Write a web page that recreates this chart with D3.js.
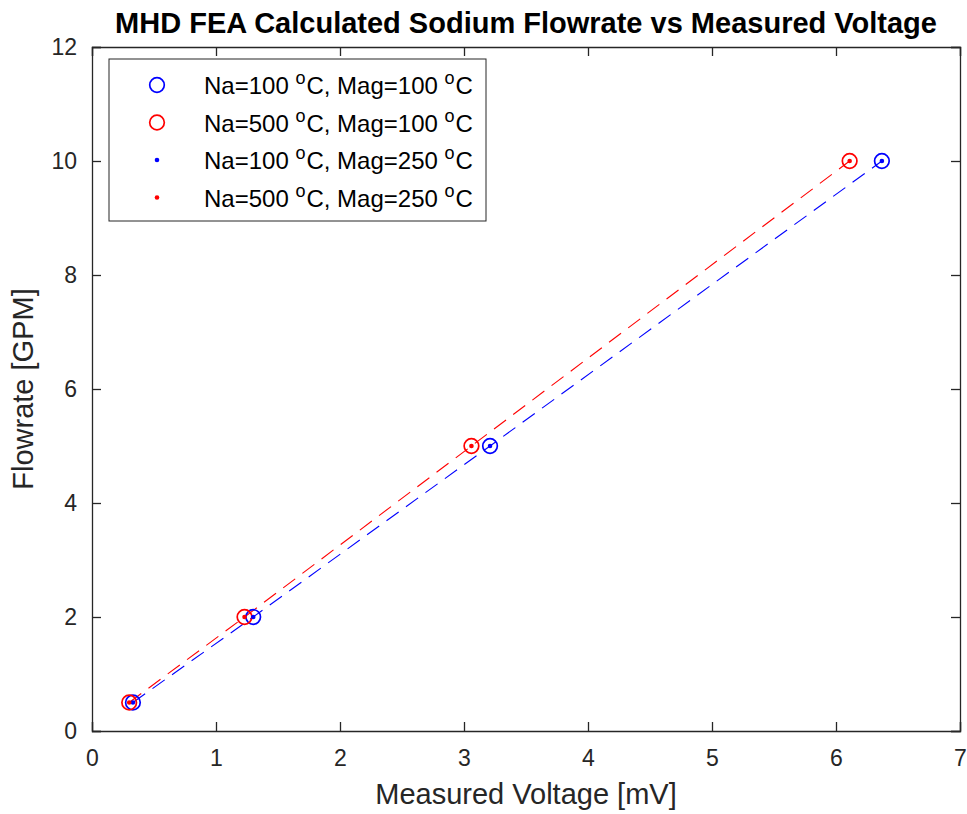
<!DOCTYPE html>
<html>
<head>
<meta charset="utf-8">
<script src="https://cdn.jsdelivr.net/npm/d3@7"></script>
<style>
  body { margin: 0; background: #fff; }
  text { font-family: Arial, "Liberation Sans", sans-serif; fill: #262626; }
</style>
</head>
<body>
<div id="chart"></div>
<script>
// Flowrate values [GPM]
var flowrates = [0.5, 2, 5, 10];
// Measured voltages [mV] per case
var voltNa100Mag100 = [0.33, 1.30, 3.21, 6.37];
var voltNa500Mag100 = [0.30, 1.23, 3.06, 6.11];
var voltNa100Mag250 = [0.33, 1.30, 3.21, 6.37];
var voltNa500Mag250 = [0.30, 1.23, 3.06, 6.11];

var xTicks = [0, 1, 2, 3, 4, 5, 6, 7];
var yTicks = [0, 2, 4, 6, 8, 10, 12];

var series = [
    { name: "Na=100", mag: "Mag=100", volts: voltNa100Mag100, color: "#0000ff", marker: "circle", line: false },
    { name: "Na=500", mag: "Mag=100", volts: voltNa500Mag100, color: "#ff0000", marker: "circle", line: false },
    { name: "Na=100", mag: "Mag=250", volts: voltNa100Mag250, color: "#0000ff", marker: "dot", line: true },
    { name: "Na=500", mag: "Mag=250", volts: voltNa500Mag250, color: "#ff0000", marker: "dot", line: true }
];

var margin = { top: 47, right: 7, bottom: 83, left: 92 };
var width = 967 - margin.left - margin.right;
var height = 814 - margin.top - margin.bottom;

var svg = d3.select("#chart").append("svg")
    .attr("width", 967)
    .attr("height", 814);

var g = svg.append("g")
    .attr("transform", "translate(" + margin.left + "," + margin.top + ")");

var xScale = d3.scaleLinear().domain([0, 7]).range([0, width]);
var yScale = d3.scaleLinear().domain([0, 12]).range([height, 0]);

var axisColor = "#262626";
var tickLen = 9;
var fmt = d3.format("d");

// axes with inward ticks on all four sides
var xBottom = g.append("g").attr("transform", "translate(0," + height + ")")
    .call(d3.axisBottom(xScale).tickValues(xTicks).tickSize(-tickLen).tickPadding(19).tickFormat(fmt));
var xTop = g.append("g")
    .call(d3.axisTop(xScale).tickValues(xTicks).tickSize(-tickLen).tickFormat(""));
var yLeft = g.append("g")
    .call(d3.axisLeft(yScale).tickValues(yTicks).tickSize(-tickLen).tickPadding(15).tickFormat(fmt));
var yRight = g.append("g").attr("transform", "translate(" + width + ",0)")
    .call(d3.axisRight(yScale).tickValues(yTicks).tickSize(-tickLen).tickFormat(""));

[xBottom, xTop, yLeft, yRight].forEach(function (a) {
    a.select(".domain").attr("stroke", axisColor).attr("stroke-width", 1.3);
    a.selectAll(".tick line").attr("stroke", axisColor).attr("stroke-width", 1.3);
    a.selectAll("text").style("font-size", "23px").attr("fill", axisColor);
});

// dashed lines
var lineFn = function (s) {
    return d3.line()
        .x(function (d, i) { return xScale(s.volts[i]); })
        .y(function (d) { return yScale(d); })(flowrates);
};

series.filter(function (s) { return s.line; }).forEach(function (s) {
    g.append("path")
        .attr("d", lineFn(s))
        .attr("fill", "none")
        .attr("stroke", s.color)
        .attr("stroke-width", 1.1)
        .attr("stroke-dasharray", "15,9");
});

// markers
series.forEach(function (s) {
    g.selectAll(null)
        .data(flowrates)
        .enter().append("circle")
        .attr("cx", function (d, i) { return xScale(s.volts[i]); })
        .attr("cy", function (d) { return yScale(d); })
        .attr("r", s.marker === "circle" ? 7.3 : 2.3)
        .attr("fill", s.marker === "circle" ? "none" : s.color)
        .attr("stroke", s.marker === "circle" ? s.color : "none")
        .attr("stroke-width", 1.7);
});

// title
svg.append("text")
    .attr("x", margin.left + width / 2)
    .attr("y", 33)
    .attr("text-anchor", "middle")
    .style("font-size", "29px")
    .style("font-weight", "bold")
    .style("fill", "#000")
    .text("MHD FEA Calculated Sodium Flowrate vs Measured Voltage");

// axis labels
svg.append("text")
    .attr("x", margin.left + width / 2)
    .attr("y", 804)
    .attr("text-anchor", "middle")
    .style("font-size", "29px")
    .text("Measured Voltage [mV]");

svg.append("text")
    .attr("transform", "translate(33," + (margin.top + height / 2) + ") rotate(-90)")
    .attr("text-anchor", "middle")
    .style("font-size", "29px")
    .text("Flowrate [GPM]");

// legend
var legend = svg.append("g").attr("transform", "translate(109,59)");
legend.append("rect")
    .attr("width", 377).attr("height", 162)
    .attr("fill", "#fff")
    .attr("stroke", axisColor)
    .attr("stroke-width", 1);

series.forEach(function (s, i) {
    var cy = 26 + i * 37.5;
    legend.append("circle")
        .attr("cx", 48).attr("cy", cy)
        .attr("r", s.marker === "circle" ? 7.3 : 2.3)
        .attr("fill", s.marker === "circle" ? "none" : s.color)
        .attr("stroke", s.marker === "circle" ? s.color : "none")
        .attr("stroke-width", 1.7);
    var t = legend.append("text")
        .attr("x", 95).attr("y", cy + 9)
        .style("font-size", "24px")
        .style("fill", "#000");
    t.append("tspan").text(s.name + " ");
    t.append("tspan").attr("dy", -10).style("font-size", "18px").text("o");
    t.append("tspan").attr("dy", 10).attr("dx", 1).text("C, " + s.mag + " ");
    t.append("tspan").attr("dy", -10).style("font-size", "18px").text("o");
    t.append("tspan").attr("dy", 10).attr("dx", 1).text("C");
});
</script>
</body>
</html>
